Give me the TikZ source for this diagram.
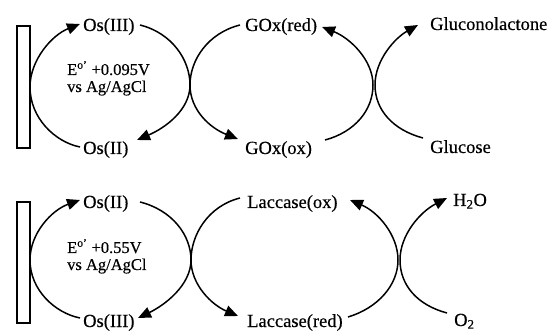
\documentclass[tikz,border=0pt]{standalone}
\usepackage{fontspec}
\setmainfont[FakeBold=0.4]{Liberation Serif}
\usetikzlibrary{arrows.meta}
\tikzset{
  lbl/.style={anchor=base west, inner sep=0pt, font=\fontsize{18.5}{22}\selectfont},
  elbl/.style={anchor=base west, inner sep=0pt, font=\fontsize{16.5}{20}\selectfont},
  electrode/.style={draw, line width=1.2pt, fill=white},
  arc/.style={line width=1.5pt, -{Triangle[length=13pt,width=11pt]}},
  plainarc/.style={line width=1.5pt}
}
\begin{document}
\begin{tikzpicture}[x=1pt,y=-1pt]
\useasboundingbox (0,0) rectangle (552,331);
% ---------- top row ----------
\node[electrode, minimum width=13pt, minimum height=122pt, inner sep=0pt] (elA) at (23.5,87) {};
\node[lbl] (osIIIa) at (83,31) {Os(III)};
\node[lbl] (osIIa) at (83,154) {Os(II)};
\node[elbl] (eA) at (67,75) {E\textsuperscript{o’} +0.095V};
\node[elbl] (vsA) at (67,92) {vs Ag/AgCl};
\node[lbl] (goxred) at (245,31) {GOx(red)};
\node[lbl] (goxox) at (245,154) {GOx(ox)};
\node[lbl] (glcl) at (430,30) {Gluconolactone};
\node[lbl] (glc) at (430,153) {Glucose};

\coordinate (a1s) at (30,87);
\coordinate (a1e) at (80,24);
\coordinate (a2s) at (140,25);
\coordinate (a2m) at (190,85);
\coordinate (a2e) at (137,140);
\coordinate (a3s) at (80,147);
\coordinate (a4s) at (240,25);
\coordinate (a4e) at (238,139);
\coordinate (a5s) at (325,140);
\coordinate (a5m) at (373,85);
\coordinate (a5e) at (322,27);
\coordinate (a6s) at (423,138);
\coordinate (a6m) at (375,85);
\coordinate (a6e) at (418,25);

\draw[arc] (a1s) .. controls (30,60) and (52,35) .. (a1e);
\draw[arc] (a2s) .. controls (172,33) and (190,60) .. (a2m) .. controls (190,110) and (165,128) .. (a2e);
\draw[plainarc] (a3s) .. controls (55,142) and (30,118) .. (a1s);
\draw[arc] (a4s) .. controls (208,33) and (190,60) .. (a2m) .. controls (190,110) and (210,128) .. (a4e);
\draw[arc] (a5s) .. controls (355,132) and (373,110) .. (a5m) .. controls (373,60) and (350,38) .. (a5e);
\draw[arc] (a6s) .. controls (393,130) and (375,110) .. (a6m) .. controls (375,60) and (395,38) .. (a6e);

% ---------- bottom row ----------
\node[electrode, minimum width=13pt, minimum height=121pt, inner sep=0pt] (elB) at (23.5,262.5) {};
\node[lbl] (osIIb) at (83,208) {Os(II)};
\node[lbl] (osIIIb) at (83,327) {Os(III)};
\node[elbl] (eB) at (67,253) {E\textsuperscript{o’} +0.55V};
\node[elbl] (vsB) at (67,270) {vs Ag/AgCl};
\node[lbl] (laccox) at (247,208) {Laccase(ox)};
\node[lbl] (laccred) at (247,327) {Laccase(red)};
\node[lbl] (water) at (453,206) {H\textsubscript{2}O};
\node[lbl] (oxy) at (454,326) {O\textsubscript{2}};

\coordinate (b1s) at (30,260);
\coordinate (b1e) at (80,200);
\coordinate (b2s) at (140,202);
\coordinate (b2m) at (191,260);
\coordinate (b2e) at (138,318);
\coordinate (b3s) at (80,318);
\coordinate (b4s) at (240,198);
\coordinate (b4e) at (238,316);
\coordinate (b5s) at (348,317);
\coordinate (b5m) at (398,260);
\coordinate (b5e) at (350,200);
\coordinate (b6s) at (447,313);
\coordinate (b6m) at (400,260);
\coordinate (b6e) at (447,198);

\draw[arc] (b1s) .. controls (30,233) and (52,210) .. (b1e);
\draw[arc] (b2s) .. controls (172,210) and (191,235) .. (b2m) .. controls (191,285) and (165,305) .. (b2e);
\draw[plainarc] (b3s) .. controls (55,313) and (30,290) .. (b1s);
\draw[arc] (b4s) .. controls (208,206) and (191,235) .. (b2m) .. controls (191,285) and (212,305) .. (b4e);
\draw[arc] (b5s) .. controls (378,308) and (398,285) .. (b5m) .. controls (398,235) and (378,212) .. (b5e);
\draw[arc] (b6s) .. controls (417,305) and (400,285) .. (b6m) .. controls (400,235) and (420,212) .. (b6e);
\end{tikzpicture}
\end{document}
